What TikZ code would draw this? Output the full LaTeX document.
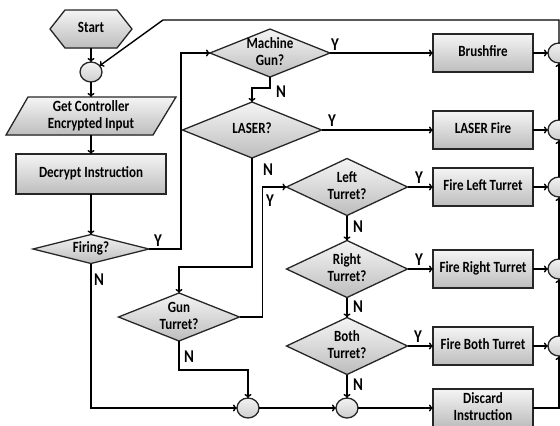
\documentclass[tikz,border=0pt]{standalone}
\usepackage{fontspec}
\setmainfont{Carlito}
\usepackage{graphicx}
\usetikzlibrary{arrows.meta,shapes.geometric,calc}
\newcommand\Tx[1]{\smash{\makebox[0pt]{\raisebox{-3.9pt}{\scalebox{1}[1.2]{\begin{tabular}{@{}c@{}}#1\end{tabular}}}}}}
\newcommand\Lb[1]{\smash{\makebox[0pt]{\raisebox{-5pt}{\scalebox{1}[1.2]{#1}}}}}
\begin{document}
\begin{tikzpicture}[x=1pt,y=-1pt,
  every node/.style={inner sep=0pt, outer sep=0pt, font=\fontsize{13}{14}\selectfont\bfseries},
  shadefill/.style={top color=gray!8, bottom color=gray!52},
  box/.style={rectangle, draw=black!85, line width=1.3pt, shadefill, minimum width=100pt, minimum height=38pt},
  dia/.style={diamond, draw=black!85, line width=1.3pt, shadefill, minimum width=121pt, minimum height=57pt},
  conn/.style={ellipse, draw=black!85, line width=1.3pt, top color=gray!10, bottom color=gray!38, minimum width=22pt, minimum height=20pt},
  anchorbox/.style={rectangle, draw=none},
  line/.style={line width=1.4pt, black},
  arr/.style={line, -{To[length=4pt,width=7pt]}},
  lab/.style={font=\fontsize{15}{16}\selectfont\bfseries}
]
\useasboundingbox (0,0) rectangle (560,426);

% Start hexagon
\filldraw[draw=black!85, line width=1.3pt, shadefill] (50,29) -- (65,10) -- (117,10) -- (132,29) -- (117,48) -- (65,48) -- cycle;
\node[anchorbox, minimum width=82pt, minimum height=38pt] (start) at (91,29) {\Tx{Start}};
\node[conn] (c0) at (91,72) {};

% parallelogram
\filldraw[draw=black!85, line width=1.3pt, shadefill] (6,135) -- (153,135) -- (176,97) -- (28,97) -- cycle;
\node[anchorbox, minimum width=130pt, minimum height=38pt] (gci) at (91,116) {\Tx{Get Controller\\Encrypted Input}};

\node[box, minimum width=150pt, minimum height=40pt] (dec) at (91,174) {\Tx{Decrypt Instruction}};
\node[dia, minimum width=116pt, minimum height=29pt] (fir) at (91,249) {\Tx{Firing?}};

\node[dia, minimum width=120pt, minimum height=48pt] (mg) at (270,53) {\Tx{Machine\\Gun?}};
\node[dia, minimum width=139pt, minimum height=56pt] (las) at (252,130) {\Tx{LASER?}};
\node[dia, minimum width=121pt, minimum height=48pt] (gun) at (179,317) {\Tx{Gun\\Turret?}};
\node[dia] (lt) at (347,187) {\Tx{Left\\Turret?}};
\node[dia] (rt) at (347,269) {\Tx{Right\\Turret?}};
\node[dia] (bt) at (347,346) {\Tx{Both\\Turret?}};

\node[conn] (bA) at (248,408) {};
\node[conn] (bB) at (347,408) {};

\node[box] (brush) at (483,53) {\Tx{Brushfire}};
\node[box] (lasf) at (483,130) {\Tx{LASER Fire}};
\node[box] (flt) at (483,187) {\Tx{Fire Left Turret}};
\node[box] (frt) at (483,269) {\Tx{Fire Right Turret}};
\node[box] (fbt) at (483,346) {\Tx{Fire Both Turret}};
\node[box] (disc) at (483,408) {\Tx{Discard\\Instruction}};

\node[conn] (r1) at (559,53) {};
\node[conn] (r2) at (559,130) {};
\node[conn] (r3) at (559,187) {};
\node[conn] (r4) at (559,269) {};
\node[conn] (r5) at (559,346) {};

\coordinate (tr) at (559,20);
\coordinate (tl) at (163,20);

% left column
\draw[arr] (start.south) -- (c0.north);
\draw[arr] (c0.south) -- (gci.north);
\draw[arr] (gci.south) -- (dec.north);
\draw[arr] (dec.south) -- (fir.north);
\draw[arr] (fir.east) -- ++(32,0) |- (mg.west);
\draw[arr] (fir.south) |- (bA.west);

\draw[arr] (mg.east) -- (brush.west);
\draw[arr] (mg.south) -- ++(0,11) -| (las.north);
\draw[arr] (las.east) -- (lasf.west);
\draw[arr] (las.south) -- ++(0,109) -| (gun.north);
\draw[arr] (gun.east) -- ++(23,0) |- (lt.west);
\draw[arr] (gun.south) -- ++(0,29) -| (bA.north);

\draw[arr] (lt.east) -- (flt.west);
\draw[arr] (lt.south) -- (rt.north);
\draw[arr] (rt.east) -- (frt.west);
\draw[arr] (rt.south) -- (bt.north);
\draw[arr] (bt.east) -- (fbt.west);
\draw[arr] (bt.south) -- (bB.north);

\draw[arr] (bA.east) -- (bB.west);
\draw[arr] (bB.east) -- (disc.west);

\draw[arr] (brush.east) -- (r1.west);
\draw[arr] (lasf.east) -- (r2.west);
\draw[arr] (flt.east) -- (r3.west);
\draw[arr] (frt.east) -- (r4.west);
\draw[arr] (fbt.east) -- (r5.west);

\draw[arr] (disc.east) -| (r5.south);
\draw[arr] (r5.north) -- (r4.south);
\draw[arr] (r4.north) -- (r3.south);
\draw[arr] (r3.north) -- (r2.south);
\draw[arr] (r2.north) -- (r1.south);
\draw[arr] (r1.north) -- (tr) -- (tl) -- (c0);

% labels
\node[lab] (yF) at (158,241) {\Lb{Y}};
\node[lab] (nF) at (99,280) {\Lb{N}};
\node[lab] (yM) at (335,45) {\Lb{Y}};
\node[lab] (nM) at (281,92) {\Lb{N}};
\node[lab] (yL) at (332,121) {\Lb{Y}};
\node[lab] (nL) at (268,170) {\Lb{N}};
\node[lab] (yG) at (270,201) {\Lb{Y}};
\node[lab] (nG) at (189,357) {\Lb{N}};
\node[lab] (yLT) at (419,178) {\Lb{Y}};
\node[lab] (nLT) at (358,227) {\Lb{N}};
\node[lab] (yRT) at (419,260) {\Lb{Y}};
\node[lab] (nRT) at (358,307) {\Lb{N}};
\node[lab] (yBT) at (418,337) {\Lb{Y}};
\node[lab] (nBT) at (358,385) {\Lb{N}};
\end{tikzpicture}
\end{document}
